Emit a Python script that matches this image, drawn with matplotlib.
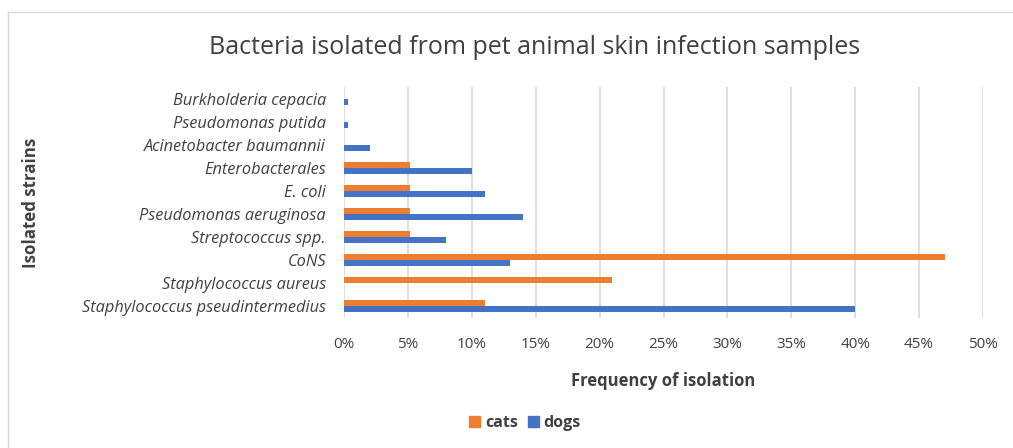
import numpy as np
import matplotlib.pyplot as plt
from matplotlib.lines import Line2D
from matplotlib.patches import Patch

# Isolation frequencies (%) per strain, listed bottom to top
strains = [
    "Staphylococcus pseudintermedius",
    "Staphylococcus aureus",
    "CoNS",
    "Streptococcus spp.",
    "Pseudomonas aeruginosa",
    "E. coli",
    "Enterobacterales",
    "Acinetobacter baumannii",
    "Pseudomonas putida",
    "Burkholderia cepacia",
]
cats = [11, 21, 47, 5.2, 5.2, 5.2, 5.2, 0, 0, 0]
dogs = [40, 0, 13, 8, 14, 11, 10, 2, 0.35, 0.35]
x_ticks = [0, 5, 10, 15, 20, 25, 30, 35, 40, 45, 50]

ORANGE = "#ED7D31"
BLUE = "#4472C4"
TEXT = "#404040"

plt.rcParams["font.family"] = ["Open Sans", "DejaVu Sans"]

fig = plt.figure(figsize=(10.13, 4.48), dpi=100)

# chart frame
fig.add_artist(Line2D([8 / 1013, 8 / 1013], [0, 1 - 12 / 448],
                      transform=fig.transFigure, color="#d9d9d9", lw=1))
fig.add_artist(Line2D([8 / 1013, 1], [1 - 12 / 448, 1 - 12 / 448],
                      transform=fig.transFigure, color="#d9d9d9", lw=1))

ax = fig.add_axes([344 / 1013, 1 - 317.5 / 448, 639 / 1013, 230 / 448])

y = np.arange(len(strains))
h = 0.28
ax.barh(y + h / 2, cats, height=h, color=ORANGE, label="cats")
ax.barh(y - h / 2, dogs, height=h, color=BLUE, label="dogs")

ax.set_xlim(0, 50)
ax.set_ylim(-0.5, len(strains) - 0.5)
ax.set_xticks(x_ticks)
ax.set_xticklabels([f"{t}%" for t in x_ticks], fontsize=11, color=TEXT)
ax.set_yticks(y)
ax.set_yticklabels(strains, fontsize=11.8, style="italic", color=TEXT)
ax.tick_params(axis="both", length=0)
ax.tick_params(axis="x", pad=14)
ax.tick_params(axis="y", pad=13)

ax.grid(axis="x", color="#d9d9d9", lw=1.2)
ax.set_axisbelow(True)
for side in ["top", "right", "bottom", "left"]:
    ax.spines[side].set_visible(False)

fig.text(535 / 1013, 1 - 47 / 448, "Bacteria isolated from pet animal skin infection samples",
         ha="center", va="center", fontsize=18, color=TEXT)
fig.text(663 / 1013, 1 - 381 / 448, "Frequency of isolation",
         ha="center", va="center", fontsize=12, fontweight="bold", color=TEXT)
fig.text(31 / 1013, 1 - 203 / 448, "Isolated strains", rotation=90,
         ha="center", va="center", fontsize=12.2, fontweight="bold", color=TEXT)

handles = [Patch(color=ORANGE, label="cats"), Patch(color=BLUE, label="dogs")]
fig.legend(handles=handles, loc="center", bbox_to_anchor=(525 / 1013, 1 - 423 / 448),
           ncol=2, frameon=False, handlelength=0.7, handleheight=0.7,
           handletextpad=0.3, columnspacing=0.6, labelcolor=TEXT,
           prop={"size": 11.5, "weight": "bold"})

fig.savefig("out.png", dpi=100)
